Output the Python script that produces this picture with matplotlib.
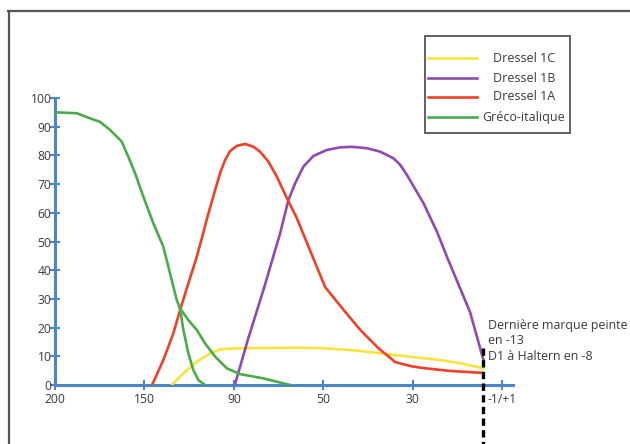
import matplotlib
matplotlib.use("Agg")
import matplotlib.pyplot as plt
from matplotlib.lines import Line2D
from matplotlib.patches import Rectangle

plt.rcParams['font.family'] = ['Open Sans', 'DejaVu Sans']

# axe x : positions régulières, étiquettes non linéaires
x_labels = ["200", "150", "90", "50", "30", "-1/+1"]
y_ticks = [0, 10, 20, 30, 40, 50, 60, 70, 80, 90, 100]

# Dressel 1C
d1c_x = [1.305, 1.435, 1.585, 1.734, 1.846, 2.032, 2.74, 3.0, 3.375, 3.784, 4.306, 4.53, 4.79]
d1c_y = [0, 4.1, 8.1, 11.0, 12.4, 12.8, 13.0, 12.8, 12.0, 10.5, 8.7, 7.6, 5.8]

# Dressel 1B
d1b_x = [2.01, 2.162, 2.33, 2.517, 2.61, 2.685, 2.777, 2.889, 3.039, 3.188, 3.319, 3.487,
         3.635, 3.784, 3.859, 3.934, 4.12, 4.27, 4.381, 4.64, 4.79]
d1b_y = [0, 16.4, 33.1, 52.9, 64.5, 70.3, 76.1, 79.8, 81.9, 82.8, 83.0, 82.5,
         81.3, 79.0, 76.7, 73.2, 63.3, 53.4, 44.7, 25.4, 8.7]

# Dressel 1A
d1a_x = [1.085, 1.211, 1.323, 1.398, 1.491, 1.585, 1.641, 1.715, 1.79, 1.846, 1.902, 1.957,
         2.032, 2.125, 2.218, 2.293, 2.386, 2.48, 2.592, 2.704, 2.796, 3.02, 3.21, 3.412,
         3.613, 3.803, 3.971, 4.116, 4.418, 4.787]
d1a_y = [0, 8.7, 18.0, 26.1, 35.4, 44.7, 51.1, 59.8, 67.9, 73.9, 78.4, 81.5,
         83.3, 84.0, 83.0, 81.3, 77.8, 72.6, 65.1, 58.1, 51.1, 34.1, 26.8, 19.2,
         12.9, 8.0, 6.6, 5.9, 4.9, 4.2]

# Gréco-italique (+ seconde branche)
gi_x = [0, 0.243, 0.392, 0.503, 0.615, 0.746, 0.82, 0.895, 0.988, 1.1, 1.211, 1.286,
        1.361, 1.398, 1.435, 1.491, 1.547, 1.603, 1.678]
gi_y = [95.0, 94.7, 92.9, 91.7, 88.9, 84.8, 79.5, 73.8, 65.6, 56.3, 48.2, 38.9,
        29.6, 26.7, 19.2, 11.0, 5.2, 1.7, 0]
gi2_x = [1.398, 1.491, 1.585, 1.678, 1.79, 1.921, 2.069, 2.33, 2.629]
gi2_y = [26.7, 22.6, 19.2, 14.5, 9.9, 5.8, 3.8, 2.3, 0]

last_mark = 4.79  # -13 / -8

W, H = 630, 444
fig = plt.figure(figsize=(6.3, 4.44), dpi=100)
ax = fig.add_axes([55 / W, (H - 385) / H, (513 - 55) / W, 287 / H])

blue = '#4a86c8'
txt = '#3a3a3a'
lw = 1.9
series = [
    (d1c_x, d1c_y, '#f7e43c', "Dressel 1C"),
    (d1b_x, d1b_y, '#8d4bae', "Dressel 1B"),
    (d1a_x, d1a_y, '#ec4228', "Dressel 1A"),
    (gi_x, gi_y, '#4caa4a', "Gréco-italique"),
]
for xs, ys, c, lab in series:
    ax.plot(xs, ys, color=c, lw=lw, solid_joinstyle='round', solid_capstyle='round', zorder=3)
ax.plot(gi2_x, gi2_y, color='#4caa4a', lw=lw, solid_joinstyle='round', zorder=3)

ax.set_xlim(0, 5.12)
ax.set_ylim(0, 100)
for s in ['top', 'right']:
    ax.spines[s].set_visible(False)
for s in ['left', 'bottom']:
    ax.spines[s].set_color(blue)
    ax.spines[s].set_linewidth(2.2)
ax.set_xticks(range(len(x_labels)))
ax.set_xticklabels(x_labels)
ax.set_yticks(y_ticks)
ax.tick_params(axis='both', direction='inout', length=7, width=1.5, color=blue,
               labelsize=8.7, labelcolor=txt)
ax.tick_params(axis='x', pad=2)
ax.tick_params(axis='y', pad=-1)
ax.set_facecolor('none')

# ligne verticale pointillée
ax.plot([last_mark, last_mark], [13, -22], color='black', lw=2.4,
        dashes=(2.2, 1.3), clip_on=False, zorder=4)
ax.text(last_mark + 0.05, 23, "Dernière marque peinte\nen -13\nD1 à Haltern en -8",
        fontsize=8.9, color=txt, va='top', ha='left', linespacing=1.25)

# légende
fig.add_artist(Rectangle((425 / W, 1 - 133 / H), 145 / W, 97 / H, transform=fig.transFigure,
                         fill=False, edgecolor='#555555', lw=1.3))
rows = [58, 78, 97, 117]
for (xs, ys, c, lab), r in zip(series, rows):
    fig.add_artist(Line2D([428 / W, 477 / W], [1 - r / H] * 2, color=c, lw=1.9,
                          transform=fig.transFigure))
    fig.text(524 / W, 1 - r / H, lab, ha='center', va='center', fontsize=9, color=txt)

# cadre extérieur
fig.add_artist(Line2D([8.5 / W, 8.5 / W], [0, 1 - 11.5 / H], color='#555555', lw=1.6,
                      transform=fig.transFigure))
fig.add_artist(Line2D([8 / W, 1], [1 - 11.5 / H] * 2, color='#555555', lw=1.6,
                      transform=fig.transFigure))

fig.savefig("out.png", dpi=100)
